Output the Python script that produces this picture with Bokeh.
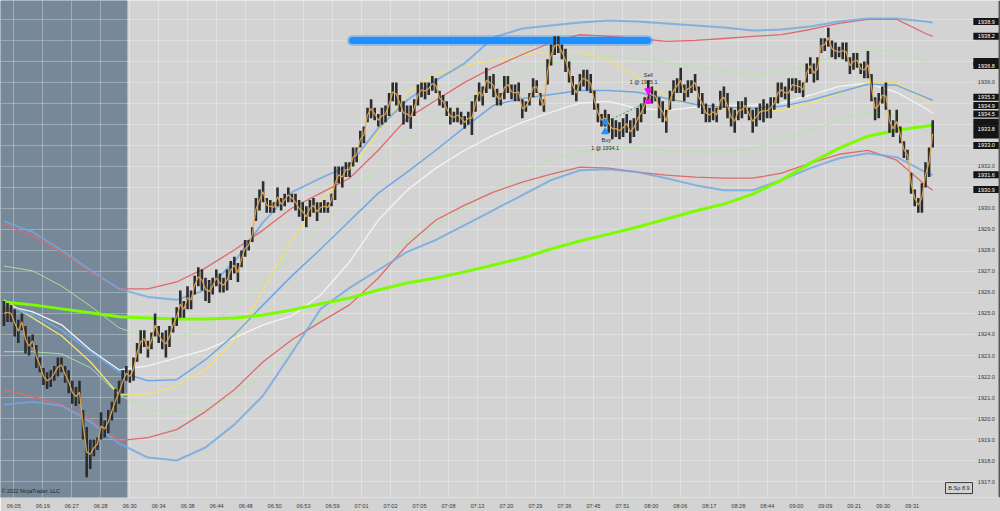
from bokeh.plotting import figure
from bokeh.models import Range1d, FixedTicker, CustomJSTickFormatter, Span
from bokeh.core.properties import value
from bokeh.embed import file_html
from bokeh.resources import INLINE

FONT = "Liberation Sans"

# ---------------- data ----------------
bar_high = [
    1925.6, 1925.5, 1925.4, 1925.2, 1924.7, 1925.0, 1924.4, 1923.9, 1924.0, 1923.5,
    1922.9, 1922.4, 1922.2, 1922.3, 1922.5, 1922.9, 1922.9, 1922.5, 1922.3, 1921.8,
    1921.5, 1921.8, 1920.4, 1919.6, 1919.0, 1919.0, 1919.1, 1920.3, 1919.9, 1920.4,
    1920.8, 1921.4, 1921.8, 1922.3, 1922.5, 1922.3, 1922.9, 1923.6, 1924.2, 1924.2,
    1923.7, 1924.1, 1925.0, 1924.4, 1924.1, 1924.2, 1924.4, 1924.8, 1925.3, 1926.1,
    1925.6, 1926.3, 1926.1, 1926.8, 1927.2, 1927.1, 1926.7, 1926.6, 1926.7, 1927.1,
    1926.9, 1926.7, 1927.1, 1927.5, 1927.7, 1927.4, 1928.0, 1928.5, 1928.5, 1929.1,
    1930.5, 1930.9, 1931.3, 1930.5, 1930.4, 1930.3, 1931.0, 1930.5, 1930.7, 1931.0,
    1930.7, 1930.7, 1930.4, 1930.3, 1930.1, 1930.4, 1930.5, 1930.3, 1930.3, 1930.4,
    1930.3, 1930.7, 1932.0, 1932.0, 1932.0, 1932.2, 1932.2, 1932.9, 1932.9, 1933.7,
    1933.9, 1934.8, 1935.2, 1934.8, 1934.5, 1934.8, 1934.9, 1935.5, 1936.0, 1936.0,
    1935.4, 1935.1, 1934.9, 1934.9, 1935.2, 1935.9, 1936.0, 1936.0, 1936.0, 1936.3,
    1936.2, 1935.6, 1935.4, 1935.1, 1934.8, 1934.6, 1934.8, 1934.6, 1934.4, 1934.6,
    1935.1, 1935.4, 1936.0, 1935.8, 1936.7, 1936.3, 1936.4, 1935.7, 1935.5, 1936.3,
    1936.3, 1935.9, 1935.9, 1936.0, 1935.2, 1935.1, 1935.5, 1936.2, 1936.1, 1935.5,
    1935.2, 1937.1, 1937.8, 1938.2, 1938.2, 1937.8, 1937.6, 1937.0, 1936.3, 1935.9,
    1936.4, 1936.6, 1936.6, 1936.4, 1935.6, 1935.0, 1934.5, 1934.7, 1934.5, 1934.3,
    1934.2, 1934.1, 1934.3, 1934.5, 1934.2, 1934.3, 1934.8, 1935.0, 1935.3, 1936.1,
    1935.8, 1935.6, 1935.3, 1935.1, 1934.7, 1935.6, 1936.1, 1936.2, 1936.7, 1935.9,
    1936.1, 1936.1, 1936.4, 1935.8, 1935.5, 1935.0, 1934.8, 1935.0, 1934.8, 1935.6,
    1935.8, 1935.5, 1934.8, 1934.7, 1935.1, 1935.1, 1935.3, 1934.8, 1934.7, 1934.8,
    1935.0, 1935.2, 1935.0, 1935.3, 1935.3, 1936.0, 1936.0, 1935.8, 1936.2, 1936.2,
    1936.2, 1936.1, 1936.0, 1936.9, 1937.2, 1936.9, 1937.2, 1938.1, 1938.1, 1938.6,
    1938.0, 1937.9, 1937.7, 1937.9, 1937.9, 1937.2, 1937.4, 1937.4, 1936.9, 1937.0,
    1937.5, 1936.4, 1935.3, 1935.5, 1935.8, 1936.0, 1934.7, 1934.2, 1934.7, 1933.9,
    1933.2, 1932.8, 1931.7, 1930.9, 1930.5, 1931.2, 1932.2, 1932.9, 1934.2,
]
bar_low = [
    1924.4, 1924.6, 1924.6, 1923.9, 1923.6, 1924.2, 1923.1, 1923.0, 1923.4, 1922.4,
    1922.2, 1921.6, 1921.4, 1921.5, 1921.8, 1922.0, 1922.2, 1921.7, 1921.2, 1920.7,
    1920.6, 1920.7, 1919.0, 1917.2, 1917.6, 1918.2, 1918.5, 1919.0, 1919.1, 1919.3,
    1919.9, 1920.3, 1920.7, 1921.2, 1921.8, 1921.7, 1921.8, 1922.7, 1923.1, 1923.4,
    1922.9, 1923.3, 1923.9, 1923.6, 1923.3, 1922.9, 1923.4, 1924.1, 1924.4, 1924.8,
    1924.8, 1925.2, 1925.2, 1925.9, 1926.3, 1926.1, 1925.6, 1925.5, 1925.9, 1926.3,
    1926.0, 1926.0, 1926.1, 1926.6, 1926.9, 1926.5, 1927.2, 1927.7, 1928.0, 1928.4,
    1929.4, 1929.9, 1930.3, 1929.8, 1929.8, 1929.8, 1930.1, 1929.9, 1930.1, 1930.3,
    1930.3, 1929.9, 1929.6, 1929.4, 1929.1, 1929.6, 1929.8, 1929.4, 1929.8, 1929.8,
    1929.8, 1930.1, 1930.4, 1931.2, 1931.0, 1931.5, 1931.5, 1932.0, 1932.2, 1932.9,
    1933.1, 1934.1, 1934.3, 1934.2, 1933.9, 1934.0, 1934.1, 1934.4, 1935.1, 1934.9,
    1934.6, 1934.0, 1934.1, 1933.8, 1934.4, 1934.9, 1935.3, 1935.2, 1935.4, 1935.6,
    1935.5, 1934.9, 1934.8, 1934.4, 1934.0, 1934.1, 1934.1, 1934.0, 1933.8, 1934.0,
    1933.5, 1934.6, 1935.1, 1934.9, 1935.5, 1935.7, 1935.3, 1934.9, 1934.9, 1935.2,
    1935.5, 1935.2, 1935.1, 1935.1, 1934.3, 1934.6, 1934.9, 1935.3, 1935.5, 1934.9,
    1934.6, 1935.9, 1936.8, 1937.3, 1937.4, 1937.1, 1936.5, 1936.0, 1935.4, 1935.1,
    1935.6, 1935.8, 1935.6, 1935.5, 1934.7, 1934.1, 1933.9, 1933.9, 1933.6, 1933.3,
    1933.4, 1933.3, 1933.4, 1933.6, 1933.1, 1933.4, 1933.7, 1934.1, 1934.5, 1935.0,
    1935.0, 1935.1, 1934.3, 1934.1, 1933.6, 1934.7, 1935.1, 1935.5, 1935.5, 1935.1,
    1935.3, 1935.5, 1935.6, 1934.8, 1934.5, 1934.1, 1934.1, 1934.2, 1934.1, 1934.7,
    1934.8, 1934.3, 1933.9, 1933.6, 1934.2, 1934.3, 1934.5, 1934.2, 1933.6, 1933.9,
    1934.2, 1934.1, 1934.3, 1934.3, 1934.7, 1935.0, 1935.3, 1935.2, 1934.8, 1935.6,
    1935.5, 1935.5, 1935.3, 1936.0, 1936.4, 1936.0, 1936.1, 1937.4, 1937.5, 1937.7,
    1937.2, 1937.1, 1937.2, 1937.1, 1937.0, 1936.4, 1936.6, 1936.7, 1936.4, 1936.2,
    1936.2, 1935.1, 1934.2, 1934.3, 1935.0, 1934.7, 1933.6, 1933.4, 1933.6, 1933.1,
    1932.4, 1932.3, 1930.7, 1930.1, 1929.8, 1929.8, 1931.0, 1931.5, 1932.9,
]
bar_idx = list(range(len(bar_high)))

# indicator samples (every 8th bar + last bar)
ind_idx = list(range(0, 257, 8)) + [258]
sma_long = [1925.55, 1925.41, 1925.22, 1925.03, 1924.84, 1924.79, 1924.74, 1924.74, 1924.79, 1924.93,
            1925.17, 1925.46, 1925.74, 1926.12, 1926.45, 1926.69, 1926.98, 1927.31, 1927.64, 1928.07,
            1928.45, 1928.78, 1929.12, 1929.50, 1929.88, 1930.21, 1930.68, 1931.35, 1932.16, 1932.87,
            1933.44, 1933.72, 1933.91, 1933.96]
red_upper = [1929.26, 1928.69, 1927.93, 1926.98, 1926.17, 1926.17, 1926.50, 1927.17, 1928.02, 1928.97,
             1930.02, 1930.73, 1931.44, 1932.77, 1934.29, 1935.15, 1936.00, 1936.72, 1937.33, 1937.90,
             1938.28, 1938.19, 1938.09, 1937.95, 1938.00, 1938.09, 1938.19, 1938.28, 1938.52, 1938.81,
             1939.00, 1939.00, 1938.33, 1938.19]
red_lower = [1921.37, 1921.04, 1920.66, 1919.95, 1918.95, 1919.09, 1919.47, 1920.33, 1921.37, 1922.70,
             1923.75, 1924.60, 1925.41, 1926.69, 1928.26, 1929.45, 1930.16, 1930.78, 1931.25, 1931.63,
             1931.97, 1931.92, 1931.73, 1931.59, 1931.49, 1931.44, 1931.44, 1931.68, 1932.16, 1932.58,
             1932.77, 1932.30, 1931.11, 1930.87]
blue_upper = [1929.40, 1928.88, 1928.02, 1927.07, 1926.17, 1925.79, 1925.65, 1926.12, 1927.45, 1929.35,
              1930.78, 1931.44, 1932.06, 1933.82, 1935.15, 1936.10, 1936.91, 1938.14, 1938.57, 1938.71,
              1938.85, 1938.95, 1938.90, 1938.81, 1938.71, 1938.62, 1938.47, 1938.52, 1938.66, 1938.90,
              1939.04, 1939.04, 1938.90, 1938.85]
blue_lower = [1920.66, 1920.80, 1920.61, 1919.85, 1918.81, 1918.14, 1918.00, 1918.62, 1919.71, 1921.09,
              1923.13, 1925.22, 1926.22, 1927.07, 1927.93, 1928.50, 1929.21, 1929.92, 1930.64, 1931.35,
              1931.82, 1931.87, 1931.73, 1931.44, 1931.11, 1930.87, 1930.87, 1931.35, 1931.92, 1932.39,
              1932.63, 1932.44, 1931.73, 1931.59]
blue_mid = [1925.41, 1924.93, 1924.22, 1923.18, 1922.23, 1921.80, 1921.85, 1922.80, 1923.98, 1925.41,
            1926.79, 1928.07, 1929.40, 1930.73, 1931.73, 1932.77, 1933.87, 1934.91, 1935.24, 1935.43,
            1935.62, 1935.62, 1935.53, 1935.24, 1934.96, 1934.82, 1934.77, 1934.86, 1935.15, 1935.53,
            1935.91, 1935.86, 1935.29, 1935.15]
yellow_ma = [1925.65, 1924.79, 1923.94, 1922.70, 1921.13, 1921.18, 1921.56, 1922.32, 1923.75, 1926.12,
             1928.50, 1930.40, 1931.82, 1933.63, 1935.53, 1936.38, 1936.81, 1937.05, 1937.29, 1937.48,
             1937.48, 1937.05, 1936.24, 1935.39, 1934.96, 1934.77, 1934.63, 1934.67, 1935.01, 1935.48,
             1936.00, 1936.00, 1935.15, 1934.96]
white_ma = [1925.41, 1925.08, 1924.46, 1923.27, 1922.32, 1922.51, 1922.89, 1923.27, 1923.84, 1924.46,
            1924.89, 1925.88, 1927.45, 1929.45, 1930.87, 1931.92, 1932.77, 1933.49, 1934.10, 1934.58,
            1935.01, 1935.10, 1934.77, 1934.67, 1934.82, 1934.91, 1934.91, 1935.01, 1935.39, 1935.81,
            1935.96, 1935.53, 1934.77, 1934.53]
green_upper = [1927.26, 1927.03, 1926.31, 1925.36, 1924.32, 1923.84, 1923.84, 1924.32, 1925.36, 1926.50,
               1927.74, 1929.16, 1930.59, 1932.01, 1933.25, 1934.29, 1935.15, 1935.91, 1936.48, 1936.91,
               1937.19, 1937.24, 1937.14, 1936.95, 1936.76, 1936.57, 1936.34, 1936.48, 1936.86, 1937.29,
               1937.52, 1937.48, 1937.00, 1936.91]
green_lower = [1923.18, 1923.18, 1923.08, 1922.42, 1921.13, 1920.42, 1920.28, 1920.42, 1921.13, 1922.08,
               1923.27, 1924.79, 1926.12, 1927.45, 1928.50, 1929.21, 1930.02, 1930.87, 1931.73, 1932.30,
               1932.68, 1932.87, 1932.87, 1932.77, 1932.68, 1932.68, 1932.87, 1933.25, 1933.72, 1934.20,
               1934.58, 1934.44, 1933.72, 1933.53]

time_labels = ["06:05", "06:19", "06:27", "06:28", "06:30", "06:34", "06:38", "06:44", "06:48", "06:50",
               "06:53", "06:59", "07:01", "07:02", "07:05", "07:08", "07:13", "07:20", "07:29", "07:36",
               "07:45", "07:51", "08:00", "08:06", "08:17", "08:28", "08:44", "09:00", "09:09", "09:21",
               "09:30", "09:31"]
price_ticks = [float(v) for v in range(1917, 1940)]

# current-value tags on the price scale (fully visible ones carry text)
tag_values = [1938.9, 1938.2, 1936.8, 1935.3, 1934.9, 1934.5, 1933.8, 1933.0, 1931.6, 1930.9]
tag_hidden = [1937.0, 1934.1, 1933.5]

buy_bar, buy_price = 167, 1934.1
sell_bar, sell_price = 179, 1935.1
line_bars, line_price = [96.8, 178.8], 1938.0
session_end_bar = 34.3

# ---------------- figure ----------------
X0, X1 = -0.944, 276.83
Y0, Y1 = 1916.24, 1939.90
SCALE_X = 272.9      # bar-position of the price-scale column
GRID_END = 269.9

p = figure(width=1000, height=511, output_backend="svg", toolbar_location=None,
           x_range=Range1d(X0, X1), y_range=Range1d(Y0, Y1),
           y_axis_location=None,
           min_border_left=0, min_border_top=0, min_border_right=0, min_border_bottom=13,
           background_fill_color="#d3d3d3", border_fill_color="#d3d3d3",
           outline_line_color=None)

x_ticks = [round(2.75 + 8.05 * k, 3) for k in range(len(time_labels))]
xa = p.xaxis[0]
xa.ticker = FixedTicker(ticks=x_ticks)
xa.formatter = CustomJSTickFormatter(args=dict(labels=time_labels, start=2.75, step=8.05), code="""
    const k = Math.round((tick - start) / step);
    return (k >= 0 && k < labels.length) ? labels[k] : "";
""")
xa.axis_line_color = None
xa.major_tick_line_color = None
xa.minor_tick_line_color = None
xa.major_tick_out = 0
xa.major_tick_in = 0
xa.major_label_text_font = FONT
xa.major_label_text_font_size = "5.6px"
xa.major_label_text_color = "#3a3a3a"
xa.major_label_standoff = 5

p.xgrid.ticker = FixedTicker(ticks=x_ticks)
p.xgrid.grid_line_color = "#ffffff"
p.xgrid.grid_line_alpha = 0.3
p.ygrid.visible = False

# session shading
p.quad(left=[X0 - 1], right=[session_end_bar], bottom=[Y0 - 1], top=[Y1 + 1],
       fill_color="#778899", line_color=None, level="image")

# horizontal price grid (stops before the price scale)
p.segment(x0=[X0] * len(price_ticks), y0=price_ticks, x1=[GRID_END] * len(price_ticks), y1=price_ticks,
          line_color="#ffffff", line_alpha=0.3, line_width=1)

# indicators
def ind(vals, color, width, alpha=1.0):
    p.line(ind_idx, vals, line_color=color, line_width=width, line_alpha=alpha, line_join="round")

ind(green_upper, "#b4e6a0", 1.0, 0.9)
ind(green_lower, "#b4e6a0", 1.0, 0.9)
ind(white_ma, "#f4f4f4", 1.3)
ind(yellow_ma, "#ede07a", 1.4)
ind(blue_mid, "#6ea8e4", 1.5)
ind(red_upper, "#e06a6a", 1.3)
ind(red_lower, "#e06a6a", 1.3)
ind(blue_upper, "#6ea8e4", 2.0, 0.8)
ind(blue_lower, "#6ea8e4", 2.0, 0.8)
ind(sma_long, "#7cfc00", 3.0)

# drawn horizontal line
p.segment(x0=[line_bars[0]], y0=[line_price], x1=[line_bars[1]], y1=[line_price],
          line_color="#1e8fff", line_width=11, line_alpha=0.35, line_cap="round")
p.segment(x0=[line_bars[0]], y0=[line_price], x1=[line_bars[1]], y1=[line_price],
          line_color="#1e8fff", line_width=7, line_cap="round")

# price bars
p.segment(x0=bar_idx, y0=bar_low, x1=bar_idx, y1=bar_high, line_color="#2d2d2d", line_width=2.6)
mid = [(h + l) / 2 for h, l in zip(bar_high, bar_low)]
p.line(bar_idx, mid, line_color="#e3a94c", line_width=1.3, line_alpha=0.9)

# trades
p.line([buy_bar, sell_bar], [buy_price, sell_price], line_color="#3d9a3d", line_width=1, line_dash="2 2")
p.scatter([buy_bar], [buy_price], marker="square", size=4, color="#1e90ff")
p.scatter([sell_bar], [sell_price], marker="square", size=4, color="#ff00ff")
p.scatter([buy_bar], [buy_price - 0.45], marker="triangle", size=7, color="#1e90ff")
p.scatter([sell_bar], [sell_price + 0.5], marker="inverted_triangle", size=7, color="#ff00ff")
p.text(x=[buy_bar + 0.3, buy_bar], y=[buy_price - 0.85, buy_price - 1.23],
       text=["Buy", f"1 @ {buy_price:.1f}"], text_font=value(FONT), text_font_size="5.4px",
       text_color="#2a2a2a", text_align="center", text_baseline="middle")
p.text(x=[sell_bar, sell_bar - 1.3], y=[sell_price + 1.24, sell_price + 0.9],
       text=["Sell", f"1 @ {sell_price:.1f}"], text_font=value(FONT), text_font_size="5.4px",
       text_color="#2a2a2a", text_align="center", text_baseline="middle")

# copyright
p.text(x=[-0.7], y=[1916.53], text=["\u00a9 2022 NinjaTrader, LLC"], text_font=value(FONT),
       text_font_size="5.3px", text_color="#1e1e1e", text_align="left", text_baseline="middle")

# price scale labels (skip those hidden under a tag)
all_tags = tag_values + tag_hidden
vis_ticks = [t for t in price_ticks if min(abs(t - v) for v in all_tags) > 0.3]
p.text(x=[SCALE_X] * len(vis_ticks), y=vis_ticks, text=[f"{t:.1f}" for t in vis_ticks],
       text_font=value(FONT), text_font_size="5.6px", text_color="#3a3a3a",
       text_align="center", text_baseline="middle")

# price tags
p.rect(x=[SCALE_X] * len(tag_hidden), y=tag_hidden, width=26, height=7,
       width_units="screen", height_units="screen", fill_color="#151515", line_color=None)
p.rect(x=[SCALE_X] * len(tag_values), y=tag_values, width=26, height=7,
       width_units="screen", height_units="screen", fill_color="#151515", line_color=None)
p.text(x=[SCALE_X] * len(tag_values), y=tag_values, text=[f"{v:.1f}" for v in tag_values],
       text_font=value(FONT), text_font_size="5.6px", text_color="#ffffff",
       text_align="center", text_baseline="middle")

# B.Sp box
p.rect(x=[265.3], y=[1916.69], width=27, height=11, width_units="screen", height_units="screen",
       fill_color=None, line_color="#3a3a3a", line_width=1)
p.text(x=[265.3], y=[1916.69], text=["B.Sp 8.9"], text_font=value(FONT), text_font_size="5.6px",
       text_color="#2a2a2a", text_align="center", text_baseline="middle")

# right border of the price scale
p.add_layout(Span(location=276.5, dimension="height", line_color="#555555", line_width=1.5))

open("out.html", "w").write(file_html(p, INLINE))
